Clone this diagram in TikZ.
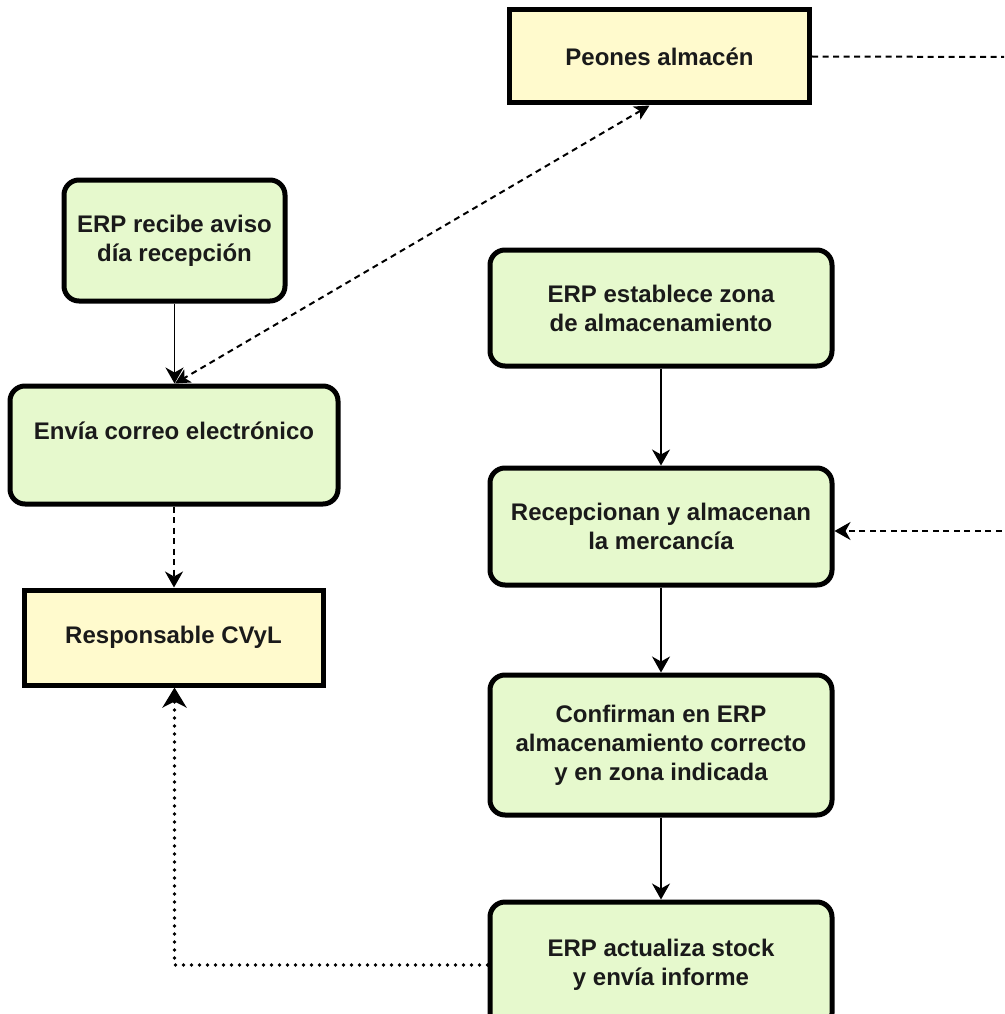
\documentclass[tikz,border=0pt]{standalone}
\usepackage{fontspec}
\setmainfont{Liberation Sans}
\usetikzlibrary{arrows.meta}
\definecolor{stepgreen}{HTML}{E6F9CD}
\definecolor{roleyellow}{HTML}{FFFACD}
\definecolor{inkdark}{HTML}{1A1A1A}
\begin{document}
\begin{tikzpicture}[x=1pt,y=-1pt,
  box/.style={draw=black, line width=5pt, inner sep=0pt, align=center,
    font=\fontsize{24}{29}\selectfont\bfseries, text=inkdark},
  stepbox/.style={box, fill=stepgreen, rounded corners=15pt},
  rolebox/.style={box, fill=roleyellow},
  tip/.style={-{Stealth[length=16pt,width=18pt,inset=5pt]}},
  flow/.style={line width=1.4pt, tip},
  msg/.style={line width=2pt, dash pattern=on 6pt off 4.5pt},
  info/.style={line width=3.8pt, line cap=round, dash pattern=on 0pt off 8pt,
    -{Stealth[length=20pt,width=24pt,inset=6pt]}}
]
\useasboundingbox (0,0) rectangle (1004,1014);
\clip (0,0) rectangle (1004,1014);

% roles
\node[rolebox, minimum width=300pt, minimum height=93pt] (peones) at (659.5,56.5) {Peones almacén};
\node[rolebox, minimum width=299pt, minimum height=95pt] (resp) at (173.5,637.5) {Responsable CVyL};

% left column steps
\node[stepbox, minimum width=221pt, minimum height=121pt] (recibe) at (174.5,240.5) {ERP recibe aviso\\día recepción};
\node[stepbox, minimum width=328pt, minimum height=118pt] (envia) at (174,445) {Envía correo electrónico\\\mbox{}};

% right column steps
\node[stepbox, minimum width=342pt, minimum height=116pt] (establece) at (661,308) {ERP establece zona\\de almacenamiento};
\node[stepbox, minimum width=342pt, minimum height=117pt] (recepcionan) at (661,526.5) {Recepcionan y almacenan\\la mercancía};
\node[stepbox, minimum width=342pt, minimum height=140pt] (confirman) at (661,745) {Confirman en ERP\\almacenamiento correcto\\y en zona indicada};
\node[stepbox, minimum width=342pt, minimum height=126pt] (actualiza) at (661,965) {ERP actualiza stock\\y envía informe};

% free ends at the right margin
\coordinate (edgeP) at (1012,57);
\coordinate (edgeR) at (1012,531);

% solid flow
\draw[flow] (recibe.south) -- (recibe.south |- envia.north);
\draw[flow] (establece) -- (recepcionan);
\draw[flow] (recepcionan) -- (confirman);
\draw[flow] (confirman) -- (actualiza);

% dashed messages
\draw[msg, {Stealth[length=15pt,width=15pt,inset=4pt]}-{Stealth[length=15pt,width=15pt,inset=4pt]}]
  ([xshift=-10pt]peones.south) -- ([xshift=1pt]envia.north);
\draw[msg, tip] (envia.south) -- (envia.south |- resp.north);
\draw[msg] (peones.east) -- (edgeP);
\draw[msg, tip] (edgeR) -- (recepcionan.east |- edgeR);

% dotted report
\draw[info] (actualiza.west) -| ([xshift=1pt]resp.south);
\end{tikzpicture}
\end{document}
